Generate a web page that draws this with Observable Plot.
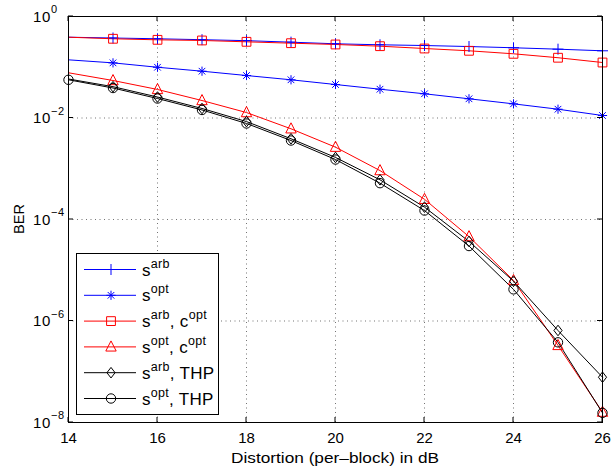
<!DOCTYPE html>
<html><head><meta charset="utf-8">
<script src="https://cdn.jsdelivr.net/npm/d3@7"></script>
<script src="https://cdn.jsdelivr.net/npm/@observablehq/plot@0.6"></script>
<style>
body{margin:0;background:#fff}
svg{font-family:"Liberation Sans",Arial,Helvetica,sans-serif}
</style>
</head><body><div id="chart"></div>
<script>
// ---- data ----
const distortion = [14,15,16,17,18,19,20,21,22,23,24,25,26];
const sArb      = [0.391,0.377,0.364,0.349,0.334,0.312,0.290,0.277,0.268,0.256,0.242,0.227,0.211];
const sOpt      = [0.140,0.122,0.100,0.0836,0.0687,0.0566,0.0457,0.0369,0.0300,0.0239,0.0190,0.0149,0.0112];
const sArbCopt  = [0.391,0.364,0.347,0.337,0.317,0.298,0.281,0.260,0.234,0.211,0.184,0.154,0.124];
const sOptCopt  = [0.0778,0.0548,0.0365,0.0221,0.0128,0.00613,0.00266,0.00092,2.5e-4,4.6e-5,6.3e-6,3.3e-7,1.6e-8];
const sArbTHP   = [0.0587,0.0414,0.0259,0.0154,0.0085,0.0039,0.00167,6.05e-4,1.75e-4,3.7e-5,6.1e-6,6.5e-7,7.8e-8];
const sOptTHP   = [0.0566,0.039,0.0242,0.0144,0.0078,0.0036,0.00152,5.2e-4,1.5e-4,3.0e-5,4.2e-6,3.8e-7,1.55e-8];
const xTicks = [14,16,18,20,22,24,26];
const yTicks = [1e-8,1e-6,1e-4,1e-2,1];
const yTickExp = ["\u22128","\u22126","\u22124","\u22122","0"];
const xLabel = "Distortion (per\u2013block) in dB";
const yLabel = "BER";

// ---- marker shapes (MATLAB-like) ----
const R = s => Math.sqrt(s/Math.PI);
const symPlus = {draw(c,s){const r=R(s);c.moveTo(-r,0);c.lineTo(r,0);c.moveTo(0,-r);c.lineTo(0,r);}};
const symStar = {draw(c,s){const r=R(s),d=r*0.72;c.moveTo(-r,0);c.lineTo(r,0);c.moveTo(0,-r);c.lineTo(0,r);
  c.moveTo(-d,-d);c.lineTo(d,d);c.moveTo(-d,d);c.lineTo(d,-d);}};
const symSquare = {draw(c,s){const r=R(s);c.rect(-r,-r,2*r,2*r);}};
const symTri = {draw(c,s){const r=R(s);c.moveTo(0,-1.15*r);c.lineTo(r,0.8*r);c.lineTo(-r,0.8*r);c.closePath();}};
const symDiamond = {draw(c,s){const r=R(s);c.moveTo(0,-1.1*r);c.lineTo(0.85*r,0);c.lineTo(0,1.1*r);c.lineTo(-0.85*r,0);c.closePath();}};
const symCircle = {draw(c,s){const r=R(s);c.moveTo(r,0);c.arc(0,0,r,0,2*Math.PI);}};

const series = [
  {key:"sArb", vals:sArb, color:"#0000ff", sym:symPlus, r:5.5, from:15, label:[["s",""],["arb","sup"]]},
  {key:"sOpt", vals:sOpt, color:"#0000ff", sym:symStar, r:4.6, from:15, label:[["s",""],["opt","sup"]]},
  {key:"sArbCopt", vals:sArbCopt, color:"#ff0000", sym:symSquare, r:4.4, from:15, label:[["s",""],["arb","sup"],[", c",""],["opt","sup"]]},
  {key:"sOptCopt", vals:sOptCopt, color:"#ff0000", sym:symTri, r:5.2, from:15, label:[["s",""],["opt","sup"],[", c",""],["opt","sup"]]},
  {key:"sArbTHP", vals:sArbTHP, color:"#000000", sym:symDiamond, r:4.8, from:15, label:[["s",""],["arb","sup"],[", THP",""]]},
  {key:"sOptTHP", vals:sOptTHP, color:"#000000", sym:symCircle, r:4.7, from:14, label:[["s",""],["opt","sup"],[", THP",""]]}
];
const rows = s => distortion.map((x,i)=>({x, y:s.vals[i]}));

const marks = [
  Plot.gridX(xTicks.slice(1,-1), {stroke:"#000", strokeOpacity:0.55, strokeDasharray:"1,3.5"}),
  Plot.gridY(yTicks.slice(1,-1), {stroke:"#000", strokeOpacity:0.55, strokeDasharray:"1,3.5"}),
  Plot.axisX({ticks:xTicks, tickSize:0, tickPadding:10, fontSize:15, label:null, tickFormat:d=>String(d)}),
  Plot.axisY({ticks:[], tickSize:0, label:null})
];
for (const s of series) {
  marks.push(Plot.line(rows(s), {x:"x", y:"y", stroke:s.color, strokeWidth:1}));
}
for (const s of series) {
  marks.push(Plot.dot(rows(s).filter(d=>d.x>=s.from), {x:"x", y:"y", stroke:s.color, fill:"none", strokeWidth:1, symbol:s.sym, r:s.r}));
}
marks.push(Plot.frame({stroke:"#000", strokeWidth:1}));

const chart = Plot.plot({
  width:611, height:469,
  marginLeft:68, marginRight:9, marginTop:16, marginBottom:47,
  style:{fontFamily:'"Liberation Sans",Arial,sans-serif', color:"#000", background:"#fff", overflow:"visible"},
  x:{domain:[14,26]},
  y:{type:"log", domain:[1e-8,1]},
  marks
});
document.getElementById("chart").appendChild(chart);

// ---- overlays drawn through the chart's own scales ----
const sx = chart.scale("x"), sy = chart.scale("y");
const svg = d3.select(chart);
const x0 = sx.apply(14), x1 = sx.apply(26), y0 = sy.apply(1e-8), y1 = sy.apply(1);
const tk = 5;
const g = svg.append("g").attr("stroke","#000").attr("stroke-width",1);
for (const t of xTicks) {
  const X = sx.apply(t);
  g.append("line").attr("x1",X).attr("x2",X).attr("y1",y0).attr("y2",y0-tk);
  g.append("line").attr("x1",X).attr("x2",X).attr("y1",y1).attr("y2",y1+tk);
}
for (const t of yTicks) {
  const Y = sy.apply(t);
  g.append("line").attr("x1",x0).attr("x2",x0+tk).attr("y1",Y).attr("y2",Y);
  g.append("line").attr("x1",x1).attr("x2",x1-tk).attr("y1",Y).attr("y2",Y);
}
// y tick labels with superscripts
yTicks.forEach((t,i)=>{
  const Y = sy.apply(t);
  const tx = svg.append("text").attr("x",33).attr("y",Y+5.5).attr("font-size",15).attr("fill","#000")
    .attr("text-anchor","start").attr("letter-spacing",0.6);
  tx.append("tspan").text("10");
  tx.append("tspan").attr("dy",-8.5).attr("font-size",11).text(yTickExp[i]);
});
// axis labels
svg.append("text").attr("x",(x0+x1)/2).attr("y",462.5).attr("text-anchor","middle").attr("font-size",15)
  .attr("textLength",208).attr("lengthAdjust","spacingAndGlyphs").text(xLabel);
svg.append("text").attr("transform",`translate(24,${(y0+y1)/2}) rotate(-90)`).attr("text-anchor","middle").attr("font-size",14.5).text(yLabel);

// legend
const L = svg.append("g");
L.append("rect").attr("x",76.5).attr("y",253.5).attr("width",142).attr("height",161).attr("fill","#fff").attr("stroke","#000").attr("stroke-width",1);
series.forEach((s,i)=>{
  const Y = 269.5 + i*25.8;
  L.append("line").attr("x1",84).attr("x2",136).attr("y1",Y).attr("y2",Y).attr("stroke",s.color).attr("stroke-width",1);
  const size = Math.PI*s.r*s.r;
  L.append("path").attr("transform",`translate(111,${Y})`).attr("d",d3.symbol(s.sym,size)()).attr("fill","none").attr("stroke",s.color).attr("stroke-width",1);
  const tx = L.append("text").attr("x",142).attr("y",Y+6).attr("font-size",17).attr("fill","#000")
    .attr("text-anchor","start").attr("letter-spacing",0.3);
  let up = false;
  for (const [str,kind] of s.label) {
    if (kind==="sup") { tx.append("tspan").attr("dy",up?0:-8).attr("font-size",12.5).text(str); up=true; }
    else { tx.append("tspan").attr("dy",up?8:0).attr("font-size",17).text(str); up=false; }
  }
});
</script></body></html>
